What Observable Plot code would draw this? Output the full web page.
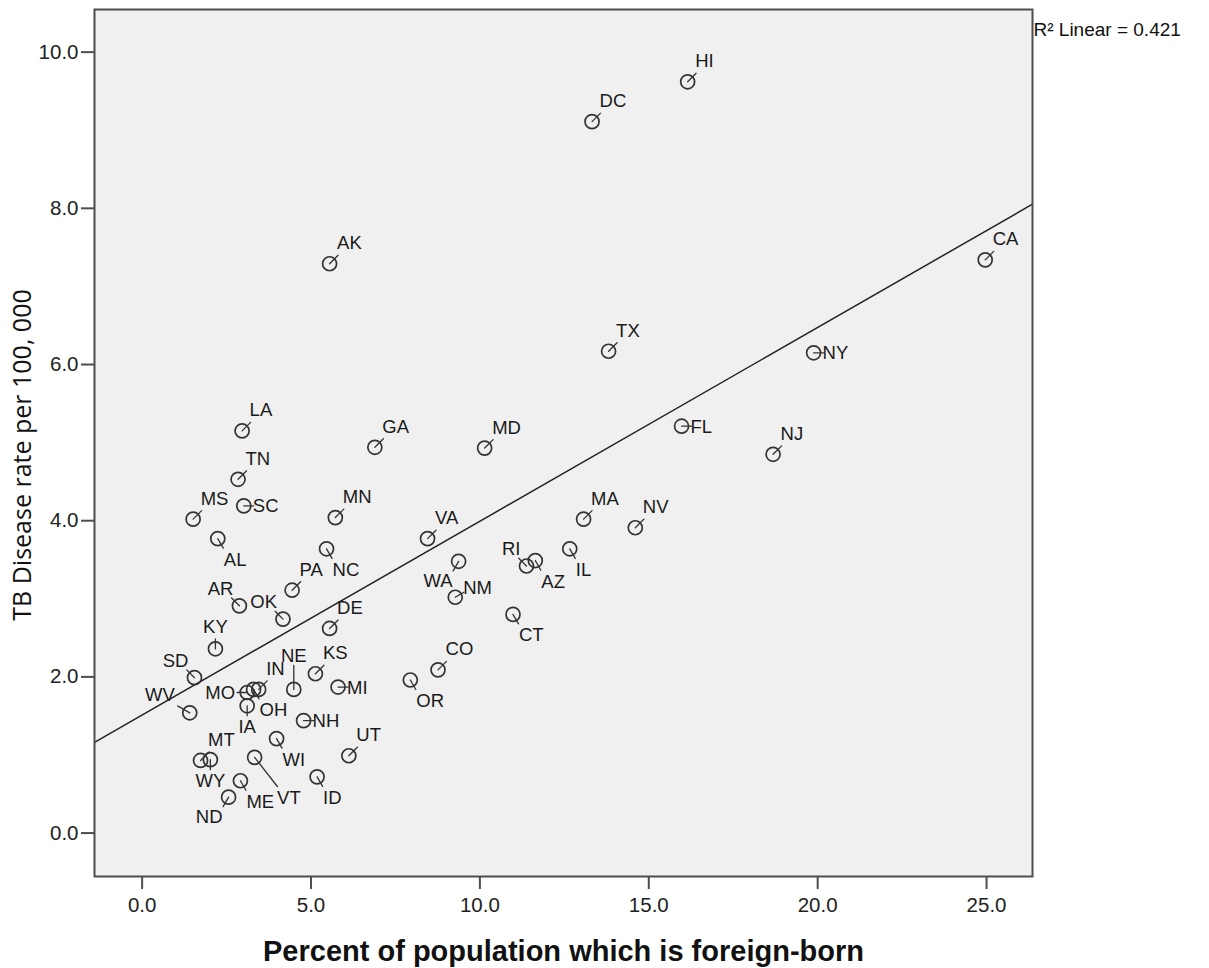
<!DOCTYPE html>
<html><head><meta charset="utf-8">
<script src="https://cdn.jsdelivr.net/npm/d3@7"></script>
<script src="https://cdn.jsdelivr.net/npm/@observablehq/plot@0.6"></script>
<style>html,body{margin:0;padding:0;background:#fff;overflow:hidden}</style>
</head><body><div id="chart"></div>
<script>
// ---- data ----
const states = ["AK","HI","DC","CA","TX","NY","FL","NJ","MD","GA","LA","TN","MS","SC","AL","MN","NC","MA","NV","VA",
  "WA","NM","RI","AZ","IL","PA","AR","OK","DE","CT","KY","SD","WV","CO","OR","NE","KS","MI","NH","UT",
  "WI","VT","ID","MT","WY","ME","ND","MO","OH","IN","IA"];
const foreignBorn = [5.55,16.15,13.32,24.96,13.81,19.88,15.97,18.68,10.14,6.89,2.96,2.84,1.51,3.01,2.24,5.72,5.46,13.07,14.60,8.45,
  9.37,9.27,11.38,11.64,12.66,4.44,2.88,4.17,5.55,10.98,2.17,1.55,1.41,8.76,7.94,4.49,5.13,5.80,4.78,6.12,
  3.98,3.33,5.18,1.73,2.02,2.91,2.56,3.11,3.30,3.45,3.11];
const tbRate = [7.29,9.62,9.11,7.34,6.17,6.15,5.21,4.85,4.93,4.94,5.15,4.53,4.02,4.19,3.77,4.04,3.64,4.02,3.91,3.77,
  3.48,3.02,3.42,3.49,3.64,3.11,2.91,2.74,2.62,2.80,2.36,1.99,1.54,2.09,1.96,1.84,2.04,1.87,1.44,0.99,
  1.21,0.97,0.72,0.93,0.94,0.67,0.46,1.80,1.84,1.84,1.63];
const xTicks = [0, 5, 10, 15, 20, 25];
const yTicks = [0, 2, 4, 6, 8, 10];
const xTitle = "Percent of population which is foreign-born";
const yTitle = "TB Disease rate per 100, 000";
const fitLabel = "R\u00B2 Linear = 0.421";

// ---- label placement (style) ----
const labelDir = {AK:"ne",HI:"ne",DC:"ne",CA:"ne",TX:"ne",NY:"e",FL:"e",NJ:"ne",MD:"ne",GA:"ne",LA:"ne",TN:"ne",
  MS:"ne",SC:"e",AL:"se",MN:"ne",NC:"se",MA:"ne",NV:"ne",VA:"ne",WA:"sw",NM:"ene",RI:"nw",AZ:"se",IL:"se",
  PA:"ne",AR:"nw",OK:"nw",DE:"ne",CT:"se",KY:"n",SD:"nw",WV:"wnw",CO:"ne",OR:"se",NE:"nfar",KS:"ne",MI:"e",
  NH:"e",UT:"ne",WI:"se",VT:"sefar",ID:"se",MT:"ne",WY:"s",ME:"se",ND:"sw",MO:"w",OH:"se",IN:"ne",IA:"s"};
const dirs = {
  ne:   {dx: 7.5, dy: -14.5, anchor: "start",  rotate: 45,  len: 12},
  ene:  {dx: 8,   dy: -3,    anchor: "start",  rotate: 60,  len: 10},
  e:    {dx: 9,   dy: 6.5,   anchor: "start",  rotate: 90,  len: 10},
  se:   {dx: 6,   dy: 27,    anchor: "start",  rotate: 150, len: 11},
  s:    {dx: 0,   dy: 27,    anchor: "middle", rotate: 180, len: 10},
  sw:   {dx: -6,  dy: 26,    anchor: "end",    rotate: 210, len: 11},
  w:    {dx: -12, dy: 6.5,   anchor: "end",    rotate: 270, len: 10},
  wnw:  {dx: -15, dy: -12,   anchor: "end",    rotate: 300, len: 14},
  nw:   {dx: -6,  dy: -11,   anchor: "end",    rotate: 315, len: 11},
  n:    {dx: 0,   dy: -16,   anchor: "middle", rotate: 0,   len: 10},
  nfar: {dx: 0,   dy: -27,   anchor: "middle", rotate: 0,   len: 24},
  sefar:{dx: 22.5,dy: 47,    anchor: "start",  rotate: 142, len: 37}
};

const data = states.map((s, i) => ({state: s, x: foreignBorn[i], y: tbRate[i], dir: labelDir[s]}));

// least-squares fit computed from the data
const mx = d3.mean(data, d => d.x), my = d3.mean(data, d => d.y);
const slope = d3.sum(data, d => (d.x - mx) * (d.y - my)) / d3.sum(data, d => (d.x - mx) ** 2);
const intercept = my - slope * mx;
const xDomain = [-1.41, 26.36];
const yDomain = [-0.556, 10.546];
const fit = xDomain.map(x => ({x, y: intercept + slope * x}));

const ink = "#333";
const labelMarks = [];
for (const [key, o] of Object.entries(dirs)) {
  const sub = data.filter(d => d.dir === key);
  if (!sub.length) continue;
  labelMarks.push(Plot.vector(sub, {x: "x", y: "y", rotate: o.rotate, length: o.len, anchor: "start", r: 0,
    stroke: ink, strokeWidth: 1.3}));
  labelMarks.push(Plot.text(sub, {x: "x", y: "y", text: "state", dx: o.dx, dy: o.dy, textAnchor: o.anchor,
    lineAnchor: "bottom", fontSize: 18.5, fill: "#1a1a1a"}));
}

const chart = Plot.plot({
  width: 1209, height: 968,
  marginLeft: 94, marginRight: 177, marginTop: 9, marginBottom: 92,
  style: {fontFamily: "'Liberation Sans', Arial, sans-serif", background: "#fff", color: "#222"},
  x: {domain: xDomain, label: null},
  y: {domain: yDomain, label: null},
  marks: [
    Plot.frame({fill: "#f0f0f0", stroke: "none"}),
    Plot.line(fit, {x: "x", y: "y", stroke: "#222", strokeWidth: 1.5}),
    ...labelMarks,
    Plot.dot(data, {x: "x", y: "y", r: 7, stroke: ink, strokeWidth: 1.7, fill: "none"}),
    Plot.frame({stroke: "#4d4d4d", strokeWidth: 2}),
    Plot.axisX({ticks: xTicks, tickFormat: ".1f", tickSize: 13, tickPadding: 8, fontSize: 20.5,
      stroke: "#4d4d4d", strokeWidth: 2, fill: "#222", label: null}),
    Plot.axisY({ticks: yTicks, tickFormat: ".1f", tickSize: 13, tickPadding: 3, fontSize: 20.5,
      stroke: "#4d4d4d", strokeWidth: 2, fill: "#222", label: null}),
    Plot.text([xTitle], {text: d => d, frameAnchor: "bottom", dy: 84, lineAnchor: "bottom", textAnchor: "middle",
      fontWeight: "bold", fontSize: 29, fill: "#111"}),
    Plot.text([yTitle], {text: d => d, frameAnchor: "left", rotate: -90, dx: -64, dy: 12, lineAnchor: "bottom",
      textAnchor: "middle", fontFamily: "'Open Sans', sans-serif", fontSize: 25, fill: "#111"}),
    Plot.text([fitLabel], {text: d => d, frameAnchor: "top-right", dx: 1, dy: 26, textAnchor: "start",
      lineAnchor: "bottom", fontSize: 19, fill: "#111"})
  ]
});
document.getElementById("chart").appendChild(chart);
</script>
</body></html>
